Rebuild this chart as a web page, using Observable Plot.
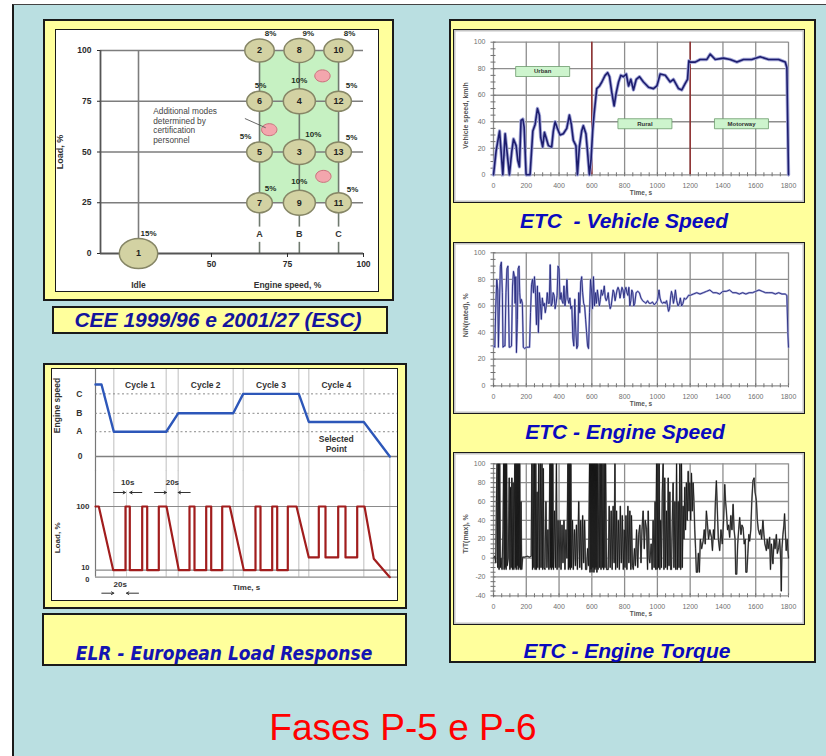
<!DOCTYPE html>
<html lang="pt"><head><meta charset="utf-8">
<script src="https://cdn.jsdelivr.net/npm/d3@7"></script>
<script src="https://cdn.jsdelivr.net/npm/@observablehq/plot@0.6"></script>
<style>
html,body{margin:0;padding:0;background:#fff;width:826px;height:756px;overflow:hidden;font-family:"Liberation Sans",Arial,sans-serif;}
#page{position:absolute;left:12px;top:4px;width:840px;height:780px;background:#badfe1;border-left:2px solid #1a1a1a;border-top:1.5px solid #444;}
.box{position:absolute;background:#ffff9c;border:2px solid #1a1a1a;box-sizing:border-box;}
.white{position:absolute;background:#fff;border:1.5px solid #1a1a1a;box-sizing:border-box;}
.etc{box-shadow:inset 0 0 0 1.5px #c4c4c4;}
.cap{position:absolute;font-weight:bold;font-style:italic;white-space:pre;text-align:center;line-height:1;}
</style></head>
<body>
<div id="page"></div>
<!-- ESC panel -->
<div class="box" style="left:43px;top:19px;width:351px;height:282px"></div>
<div class="white" style="left:55px;top:29px;width:324px;height:263px"></div>
<div class="box" style="left:52px;top:306px;width:336px;height:28px"></div>
<div class="cap" style="left:18px;width:400px;top:309px;font-size:21px;color:#14149c;font-family:'Liberation Sans',Arial">CEE 1999/96 e 2001/27 (ESC)</div>
<!-- ELR panel -->
<div class="box" style="left:43px;top:363px;width:364px;height:246px"></div>
<div class="white" style="left:51px;top:368px;width:347px;height:233px"></div>
<div class="box" style="left:42px;top:613px;width:365px;height:53px"></div>
<div class="cap" style="left:24px;width:400px;top:644px;font-size:19px;color:#1414b2;font-family:'DejaVu Sans Condensed','DejaVu Sans',sans-serif">ELR - European Load Response</div>
<!-- ETC panel -->
<div class="box" style="left:449px;top:19px;width:367px;height:644px"></div>
<div class="white etc" style="left:453px;top:29px;width:352px;height:174px"></div>
<div class="white etc" style="left:453px;top:242px;width:352px;height:172px"></div>
<div class="white etc" style="left:453px;top:452px;width:352px;height:173px"></div>
<div class="cap" style="left:424px;width:400px;top:210px;font-size:21px;color:#0a0abe;font-family:'Liberation Sans',Arial">ETC  - Vehicle Speed</div>
<div class="cap" style="left:425px;width:400px;top:421px;font-size:21px;color:#0a0abe;font-family:'Liberation Sans',Arial">ETC - Engine Speed</div>
<div class="cap" style="left:427px;width:400px;top:640px;font-size:21px;color:#0a0abe;font-family:'Liberation Sans',Arial">ETC - Engine Torque</div>
<div class="cap" style="left:203px;width:400px;top:709px;font-size:37px;color:#ff0000;font-weight:normal;font-style:normal;font-family:'Liberation Sans',Arial">Fases P-5 e P-6</div>

<script>
// ---------------- DATA ----------------
// ESC (13-mode) chart
const escLoadTicks = [0, 25, 50, 75, 100];
const escSpeedTicks = [50, 75, 100];
const escSpeedLabels = ["Idle", "A", "B", "C"];
const escSpeedValues = [26, 65.8, 78.9, 91.8];
const modeIds = [1, 2, 3, 4, 5, 6, 7, 8, 9, 10, 11, 12, 13];
const modeSpeed = ["Idle", "A", "B", "B", "A", "A", "A", "B", "B", "C", "C", "C", "C"];
const modeLoad = [0, 100, 50, 75, 50, 75, 25, 100, 25, 100, 25, 75, 50];
const modeWeight = [15, 8, 10, 10, 5, 5, 5, 9, 10, 8, 5, 5, 5];
const extraSpeed = [86.5, 69, 86.8];
const extraLoad = [87.5, 61, 38];
const escNote = "Additional modes\ndetermined by\ncertification\npersonnel";

// ELR chart
const elrCycleNames = ["Cycle 1", "Cycle 2", "Cycle 3", "Cycle 4"];
const elrCycleStart = [18.3, 82.7, 147.7, 213.3];
const elrCycleEnd = [70.7, 137.7, 203.3, 268.3];
const elrSpeedTickValues = [0, 34.4, 60, 87];
const elrSpeedTickLabels = ["0", "A", "B", "C"];
const elrLoadTicks = [0, 10, 100];
const elrSpeedT = [0, 6, 18.3, 70.7, 82.7, 137.7, 147.7, 203.3, 213.3, 268.3, 294.3];
const elrSpeedV = [100, 100, 34.4, 34.4, 60, 60, 87, 87, 48, 48, 0];
const elrLoadT = [0, 3.3, 17.7, 30, 30, 34.3, 34.3, 46.7, 46.7, 51.7, 51.7, 63.3, 63.3, 71, 83.3, 94, 94, 99, 99, 110.7, 110.7, 115.7, 115.7, 126.7, 126.7, 134.3, 148.3, 160, 160, 165, 165, 176.7, 176.7, 181.7, 181.7, 192.3, 192.3, 201, 213.3, 223.3, 223.3, 230, 230, 242.7, 242.7, 250, 250, 261.7, 261.7, 269, 278.3, 294.3];
const elrLoadV = [100, 100, 10, 10, 100, 100, 10, 10, 100, 100, 10, 10, 100, 100, 10, 10, 100, 100, 10, 10, 100, 100, 10, 10, 100, 100, 10, 10, 100, 100, 10, 10, 100, 100, 10, 10, 100, 100, 28, 28, 100, 100, 28, 28, 100, 100, 28, 28, 100, 100, 26, 0];
const elrGridT = [18.3, 70.7, 82.7, 137.7, 147.7, 203.3, 213.3, 268.3];
const elrEndT = 294.3;
const elrExtraGridT = [31];
const elrDims = [
  {label: "10s", t1: 30, t2: 34.3, row: "top"},
  {label: "20s", t1: 71, t2: 82.7, row: "top"},
  {label: "20s", t1: 18.3, t2: 31, row: "bottom"}
];

// ETC charts
const etcTimeTicks = [0, 200, 400, 600, 800, 1000, 1200, 1400, 1600, 1800];
const etcPctTicks = [0, 20, 40, 60, 80, 100];
const etcTorqueTicks = [-40, -20, 0, 20, 40, 60, 80, 100];
const etcPhaseBounds = [600, 1200];
const etcPhaseNames = ["Urban", "Rural", "Motorway"];
const etcPhaseLabelT = [300, 924, 1513];
const etcPhaseLabelV = [77.9, 38.5, 38.5];
const vsT = [0,16,37,57,71,97,112,122,138,148,158,168,179,187,199,223,240,254,268,280,288,300,311,321,335,355,365,376,390,406,426,447,463,475,487,503,512,524,538,548,564,574,585,595,605,614,630,647,661,681,696,708,722,736,749,763,777,793,810,824,838,854,871,891,915,946,976,997,1017,1048,1078,1098,1129,1149,1170,1184,1192,1200,1231,1261,1302,1322,1353,1403,1444,1485,1526,1576,1627,1678,1739,1780,1790,1800];
const vsV = [0,18,33,0,31,0,18,27,22,11,6,41,42,36,0,0,33,38,50,45,28,21,32,28,22,21,33,40,35,30,31,35,45,38,26,22,0,21,33,37,31,17,0,11,33,46,65,67,70,75,77,74,62,52,62,70,75,74,76,67,72,64,72,74,70,66,65,67,76,75,70,72,65,64,69,72,86,85,85,87,87,91,87,88,87,85,87,87,89,87,87,85,81,0];
const engineSpeed = [[0,30],[8,29],[14,60],[20,80],[26,72],[30,29],[36,60],[42,90],[48,93],[54,70],[58,29],[64,30],[70,30],[76,70],[82,88],[88,90],[92,60],[96,29],[102,29],[110,30],[116,75],[122,86],[128,82],[132,62],[136,82],[140,25],[146,50],[150,88],[156,90],[160,70],[164,62],[170,65],[176,62],[182,29],[190,28],[200,29],[214,29],[220,29],[226,55],[232,76],[238,80],[244,70],[250,82],[256,70],[262,46],[268,75],[274,40],[280,70],[286,62],[292,50],[298,66],[304,60],[310,62],[316,55],[322,60],[328,70],[334,62],[340,62],[346,91],[352,60],[358,62],[364,70],[370,68],[376,58],[382,62],[388,68],[394,90],[400,88],[406,65],[412,70],[418,64],[424,62],[430,75],[436,60],[442,66],[448,80],[454,65],[460,62],[466,66],[472,58],[478,60],[484,36],[490,30],[496,65],[502,42],[508,28],[514,30],[520,70],[526,55],[532,78],[538,82],[544,70],[550,62],[556,60],[562,50],[568,40],[574,30],[580,28],[586,55],[592,80],[598,72],[604,58],[610,82],[616,60],[622,70],[628,62],[634,72],[640,66],[646,60],[652,65],[658,72],[664,68],[670,70],[676,75],[682,66],[688,64],[694,66],[700,70],[706,62],[712,58],[718,60],[724,66],[730,72],[736,70],[742,64],[748,68],[754,72],[760,74],[766,72],[772,66],[778,70],[784,74],[790,72],[796,66],[802,72],[808,74],[814,70],[820,68],[826,74],[832,60],[838,64],[844,72],[850,70],[856,60],[862,62],[870,70],[880,71],[890,70],[900,66],[910,64],[920,63],[930,62],[940,64],[950,62],[960,62],[970,63],[980,61],[990,62],[1000,64],[1010,72],[1016,66],[1024,63],[1032,62],[1040,63],[1048,62],[1056,64],[1062,60],[1068,56],[1074,58],[1080,66],[1086,71],[1092,68],[1098,62],[1104,66],[1110,72],[1118,64],[1126,60],[1134,62],[1140,66],[1148,60],[1156,62],[1164,66],[1172,65],[1180,66],[1190,68],[1200,68],[1220,69],[1240,70],[1260,69],[1280,70],[1300,71],[1320,72],[1340,70],[1360,70],[1380,69],[1400,71],[1420,71],[1440,72],[1460,70],[1480,70],[1500,69],[1520,70],[1540,69],[1560,70],[1580,70],[1600,71],[1620,72],[1640,71],[1660,70],[1680,70],[1700,70],[1720,69],[1740,70],[1760,69],[1780,69],[1790,68],[1796,40],[1800,29]];
const engineTorque = [[0,0],[8,2],[14,-5],[18,60],[22,100],[26,-10],[30,100],[34,-12],[38,100],[42,-10],[46,0],[52,-12],[58,30],[62,100],[65,-12],[68,100],[71,-10],[74,100],[77,-12],[80,100],[84,-8],[90,0],[96,85],[100,-12],[104,75],[108,-10],[112,85],[116,-12],[120,80],[124,-12],[130,100],[133,-10],[136,100],[139,-12],[142,100],[145,-8],[148,100],[151,-12],[154,100],[157,-10],[160,100],[164,-12],[168,60],[172,-12],[178,1],[190,1],[205,2],[220,1],[230,2],[234,100],[238,-12],[242,100],[246,-10],[250,100],[254,-12],[258,100],[262,-12],[266,70],[270,-10],[276,100],[280,-12],[286,100],[290,-10],[296,100],[300,-12],[304,95],[308,-10],[314,-12],[320,60],[326,-10],[332,30],[338,-12],[344,100],[347,-10],[350,100],[353,-12],[356,100],[359,-10],[362,100],[366,-12],[372,50],[378,-10],[384,100],[388,-12],[394,40],[400,-10],[406,40],[412,-12],[418,35],[424,-5],[430,40],[436,-12],[442,30],[448,0],[454,100],[457,-12],[460,100],[463,-10],[466,100],[469,-12],[472,100],[476,-10],[482,40],[487,-12],[494,30],[500,-8],[506,35],[512,-12],[520,60],[526,-10],[532,40],[538,-12],[544,45],[550,-5],[556,40],[562,-12],[568,-12],[574,10],[580,-8],[586,100],[589,-15],[592,100],[595,-12],[598,100],[601,-15],[604,100],[607,-10],[610,100],[613,-15],[616,100],[619,-12],[622,100],[625,-10],[628,100],[631,-15],[634,100],[638,-12],[644,100],[648,-10],[652,100],[656,-12],[660,100],[664,-10],[668,100],[672,-12],[676,100],[680,-10],[684,100],[690,-12],[700,-12],[706,55],[712,-10],[718,50],[724,-12],[730,55],[736,-5],[741,100],[745,-12],[751,50],[756,-10],[762,40],[768,-12],[774,55],[780,-5],[786,45],[792,-12],[798,30],[802,-10],[808,45],[814,-12],[820,55],[826,-5],[832,50],[838,-12],[842,45],[848,-8],[853,-12],[860,10],[866,-8],[873,30],[880,-10],[886,25],[893,35],[900,-5],[906,30],[913,50],[920,10],[926,40],[934,30],[940,-12],[944,50],[950,0],[954,-5],[962,15],[968,-12],[974,40],[980,-10],[986,60],[990,-12],[995,100],[999,-12],[1003,100],[1007,-10],[1011,100],[1015,-12],[1020,40],[1025,-10],[1030,70],[1035,100],[1040,-12],[1045,85],[1050,-10],[1056,50],[1061,-12],[1066,85],[1071,-8],[1076,70],[1081,-12],[1086,-12],[1091,40],[1096,80],[1101,-10],[1107,60],[1112,-12],[1117,100],[1122,-12],[1127,60],[1132,-10],[1137,100],[1142,-12],[1147,100],[1152,-10],[1157,55],[1162,20],[1167,75],[1172,30],[1177,80],[1182,40],[1188,92],[1193,50],[1198,80],[1203,40],[1208,90],[1213,50],[1218,80],[1223,60],[1228,30],[1233,10],[1238,-15],[1244,-15],[1250,5],[1256,-15],[1262,20],[1270,10],[1279,18],[1286,30],[1292,15],[1299,50],[1306,35],[1312,20],[1320,30],[1330,22],[1336,8],[1342,30],[1348,20],[1354,60],[1360,82],[1366,50],[1372,20],[1380,8],[1388,30],[1396,15],[1404,40],[1411,78],[1416,60],[1421,50],[1428,30],[1434,35],[1441,22],[1448,45],[1455,30],[1462,57],[1468,30],[1474,20],[1478,-17],[1484,-17],[1490,15],[1496,30],[1502,43],[1510,25],[1516,35],[1523,32],[1530,15],[1536,20],[1540,-15],[1546,-15],[1552,5],[1558,25],[1563,18],[1570,30],[1576,60],[1583,82],[1590,85],[1596,70],[1604,61],[1610,40],[1616,30],[1624,25],[1630,30],[1636,20],[1644,40],[1650,25],[1656,15],[1665,8],[1670,20],[1676,10],[1685,22],[1690,-12],[1696,15],[1705,-6],[1712,20],[1718,10],[1726,25],[1732,5],[1740,11],[1746,20],[1752,0],[1756,-35],[1760,10],[1766,25],[1772,35],[1776,47],[1780,30],[1786,8],[1792,20],[1800,0]];

// ---------------- HELPERS ----------------
function put(node, left, top) {
  node.style.position = "absolute";
  node.style.left = left + "px";
  node.style.top = top + "px";
  document.body.appendChild(node);
}
const FONT = "'Liberation Sans', Arial, sans-serif";
const ellipse = {draw(ctx, size) {
  const r = Math.sqrt(size / Math.PI), rx = r * 1.28, ry = r, k = 0.5523;
  ctx.moveTo(rx, 0);
  ctx.bezierCurveTo(rx, ry * k, rx * k, ry, 0, ry);
  ctx.bezierCurveTo(-rx * k, ry, -rx, ry * k, -rx, 0);
  ctx.bezierCurveTo(-rx, -ry * k, -rx * k, -ry, 0, -ry);
  ctx.bezierCurveTo(rx * k, -ry, rx, -ry * k, rx, 0);
  ctx.closePath();
}};
const labelBox = {draw(ctx) {
  ctx.moveTo(-27, -5); ctx.lineTo(27, -5); ctx.lineTo(27, 5); ctx.lineTo(-27, 5); ctx.closePath();
}};
const segment = {draw(ctx, l) { ctx.moveTo(0, 0); ctx.lineTo(0, -l); }};
const plain = d => String(d);

// ---------------- ESC ----------------
const speedPos = Object.fromEntries(escSpeedLabels.map((k, i) => [k, escSpeedValues[i]]));
const labelOffsets = [[10,-20],[11,-17],[14,-18],[0,-21],[-14,-16],[1,-16],[11,-14],[9,-17],[0,-21],[11,-17],[14,-13],[13,-16],[13,-15]];
const modes = modeIds.map((id, i) => ({id, x: speedPos[modeSpeed[i]], y: modeLoad[i], w: modeWeight[i], off: labelOffsets[i]}));
const extras = extraSpeed.map((s, i) => ({x: s, y: extraLoad[i]}));
const abc = escSpeedLabels.slice(1).map(k => ({k, x: speedPos[k]}));
const xMin = 13.5;
let leader = null;
try {
  leader = Plot.vector([extras[1]], {x: "x", y: "y", length: 22, rotate: 114, anchor: "start", dx: -24, dy: -11, shape: segment, stroke: "#555", strokeWidth: 0.8});
} catch (e) { leader = null; }

const esc = Plot.plot({
  width: 321, height: 261, marginLeft: 44, marginRight: 14, marginTop: 20, marginBottom: 38,
  x: {domain: [xMin, 100], axis: null}, y: {domain: [0, 100], axis: null},
  r: {type: "linear", domain: [5, 15], range: [10, 15]},
  style: {background: "transparent", overflow: "visible", fontFamily: FONT, color: "#2a2a2a"},
  marks: [
    Plot.rect([0], {x1: speedPos.A, x2: speedPos.C, y1: 25, y2: 100, fill: "#c6f1c2"}),
    Plot.ruleY(escLoadTicks.filter(d => d > 0), {x1: xMin, x2: 100, stroke: "#7d7d7d", strokeWidth: 1.6}),
    Plot.ruleX([speedPos.Idle], {y1: 0, y2: 100, stroke: "#7d7d7d", strokeWidth: 1.6}),
    Plot.ruleX(abc, {x: "x", y1: 13, y2: 100, stroke: "#6f7a6f", strokeWidth: 1.6}),
    Plot.ruleX(abc, {x: "x", y1: 0, y2: 5.5, stroke: "#6f7a6f", strokeWidth: 1.6}),
    Plot.ruleX([xMin], {y1: 0, y2: 100, stroke: "#555", strokeWidth: 1.8}),
    Plot.ruleY([0], {x1: xMin, x2: 100, stroke: "#555", strokeWidth: 1.8}),
    Plot.axisY(escLoadTicks, {tickSize: 3, tickPadding: 6, fontSize: 8.5, fontWeight: "bold", label: null}),
    Plot.axisX(escSpeedTicks, {tickSize: 4, tickPadding: 3, fontSize: 8.5, fontWeight: "bold", label: null}),
    Plot.text(abc, {x: "x", y: 0, text: "k", dy: -19, fontSize: 9, fontWeight: "bold", fill: "#333"}),
    Plot.text([{x: speedPos.Idle, t: "Idle"}, {x: 75, t: "Engine speed, %"}], {x: "x", y: 0, text: "t", dy: 32, fontSize: 8.5, fontWeight: "bold", fill: "#333"}),
    Plot.text(["Load, %"], {text: d => d, frameAnchor: "left", textAnchor: "middle", rotate: -90, dx: -40, fontSize: 9, fontWeight: "bold", fill: "#333"}),
    Plot.dot(modes, {x: "x", y: "y", r: "w", symbol: ellipse, fill: "#d3d2a3", stroke: "#868666", strokeWidth: 1.5}),
    Plot.text(modes, {x: "x", y: "y", text: "id", fontSize: 9, fontWeight: "bold", fill: "#222"}),
    ...modes.map(m => Plot.text([m], {x: "x", y: "y", text: d => d.w + "%", dx: m.off[0], dy: m.off[1], fontSize: 8, fontWeight: "bold", fill: "#1e2e1e"})),
    Plot.dot(extras, {x: "x", y: "y", r: 6, symbol: ellipse, fill: "#f3a6ad", stroke: "#c9707c", strokeWidth: 1}),
    Plot.text([extras[1]], {x: "x", y: "y", text: () => escNote, dx: -116, dy: -4, textAnchor: "start", lineHeight: 1.15, fontSize: 8.3, fill: "#444"}),
    leader
  ].filter(Boolean)
});
put(esc, 56, 30);

// ---------------- ELR ----------------
const speedTrace = elrSpeedT.map((t, i) => ({t, v: elrSpeedV[i]}));
const loadTrace = elrLoadT.map((t, i) => ({t, v: elrLoadV[i]}));
const cycles = elrCycleNames.map((name, i) => ({name, t: (elrCycleStart[i] + elrCycleEnd[i]) / 2}));
const elrStyle = {background: "transparent", overflow: "visible", fontFamily: FONT, color: "#333"};
const elrTop = Plot.plot({
  width: 345, height: 103, marginLeft: 43, marginRight: 0, marginTop: 17, marginBottom: 14,
  x: {domain: [0, 302], axis: null}, y: {domain: [0, 100], axis: null},
  style: elrStyle,
  marks: [
    Plot.ruleX(elrGridT, {y1: -20, y2: 121, stroke: "#c9c9c9", strokeWidth: 1.2}),
    Plot.ruleX([elrEndT], {y1: -20, y2: 0, stroke: "#c9c9c9", strokeWidth: 1.2}),
    Plot.ruleX([0], {y1: -20, y2: 121, stroke: "#777", strokeWidth: 1.2}),
    Plot.ruleY(elrSpeedTickValues.slice(1), {x1: 0, x2: 302, stroke: "#8a8a8a", strokeWidth: 1, strokeDasharray: "2,2.5"}),
    Plot.ruleY([0], {x1: 0, x2: 302, stroke: "#808080", strokeWidth: 1.3}),
    Plot.axisY(elrSpeedTickValues, {tickSize: 0, tickPadding: 13, tickFormat: d => elrSpeedTickLabels[elrSpeedTickValues.indexOf(d)], fontSize: 8.5, fontWeight: "bold", label: null}),
    Plot.line(speedTrace, {x: "t", y: "v", stroke: "#2d57b9", strokeWidth: 2.4}),
    Plot.text(cycles, {x: "t", text: "name", frameAnchor: "top", dy: -3, fontSize: 8.5, fontWeight: "bold", fill: "#333"}),
    Plot.text([cycles[3]], {x: "t", y: elrSpeedV[8], text: () => "Selected\nPoint", dy: 22, lineHeight: 1.15, fontSize: 8.5, fontWeight: "bold", fill: "#333"}),
    Plot.text(["Engine speed"], {text: d => d, frameAnchor: "left", textAnchor: "middle", rotate: -90, dx: -38, dy: -15, fontSize: 8.5, fontWeight: "bold", fill: "#333"})
  ]
});
put(elrTop, 52, 367);

const dimArrows = [];
elrDims.forEach(d => {
  dimArrows.push({x1: d.t1 - 12, x2: d.t1, row: d.row});
  dimArrows.push({x1: d.t2 + 12, x2: d.t2, row: d.row});
});
const elrBottom = Plot.plot({
  width: 345, height: 130, marginLeft: 43, marginRight: 0, marginTop: 36, marginBottom: 23.3,
  x: {domain: [0, 302], axis: null}, y: {domain: [0, 100], axis: null},
  style: elrStyle,
  marks: [
    Plot.ruleX([...elrGridT, elrEndT], {y1: 0, y2: 151, stroke: "#c9c9c9", strokeWidth: 1.2}),
    Plot.ruleX(elrExtraGridT, {y1: 0, y2: 122, stroke: "#d4d4d4", strokeWidth: 1}),
    Plot.ruleX([0], {y1: 0, y2: 151, stroke: "#777", strokeWidth: 1.2}),
    Plot.ruleY(elrLoadTicks, {x1: 0, x2: 302, stroke: "#8a8a8a", strokeWidth: 1.2}),
    Plot.axisY([elrLoadTicks[2]], {tickSize: 0, tickPadding: 6, fontSize: 8, fontWeight: "bold", label: null}),
    Plot.axisY([elrLoadTicks[1]], {tickSize: 0, tickPadding: 6, dy: -2.5, fontSize: 7.5, fontWeight: "bold", label: null}),
    Plot.axisY([elrLoadTicks[0]], {tickSize: 0, tickPadding: 6, dy: 2.5, fontSize: 7.5, fontWeight: "bold", label: null}),
    Plot.line(loadTrace, {x: "t", y: "v", stroke: "#a11d1d", strokeWidth: 2.2}),
    Plot.arrow(dimArrows.filter(d => d.row === "top"), {x1: "x1", x2: "x2", y1: 100, y2: 100, dy: -14, stroke: "#333", strokeWidth: 1, headLength: 4}),
    Plot.arrow(dimArrows.filter(d => d.row === "bottom"), {x1: "x1", x2: "x2", y1: 0, y2: 0, dy: 16, stroke: "#333", strokeWidth: 1, headLength: 4}),
    Plot.text(elrDims.filter(d => d.row === "top"), {x: d => (d.t1 + d.t2) / 2, y: 100, text: "label", dy: -24, fontSize: 8, fontWeight: "bold", fill: "#333"}),
    Plot.text(elrDims.filter(d => d.row === "bottom"), {x: d => (d.t1 + d.t2) / 2, y: 0, text: "label", dy: 7, fontSize: 8, fontWeight: "bold", fill: "#333"}),
    Plot.text(["Time, s"], {text: d => d, frameAnchor: "bottom", dy: 13, fontSize: 8, fontWeight: "bold", fill: "#333"}),
    Plot.text(["Load, %"], {text: d => d, frameAnchor: "left", textAnchor: "middle", rotate: -90, dx: -38, dy: -4, fontSize: 8, fontWeight: "bold", fill: "#333"})
  ]
});
put(elrBottom, 52, 470);

// ---------------- ETC ----------------
const minorTime = d3.range(0, 1801, 50);
function etcChart({height, mt, mb, yDomain, yTicks, yLabel, labelDy, marks}) {
  const yMinor = d3.range(yDomain[0], yDomain[1] + 1, 5);
  return Plot.plot({
    width: 352, height, marginLeft: 40, marginRight: 17, marginTop: mt, marginBottom: mb,
    x: {domain: [0, 1800], axis: null}, y: {domain: yDomain, axis: null},
    style: {background: "transparent", overflow: "visible", fontFamily: FONT, color: "#707070"},
    marks: [
      Plot.gridX(etcTimeTicks, {stroke: "#8e8e8e", strokeOpacity: 1, strokeWidth: 1.3}),
      Plot.gridY(yTicks, {stroke: "#8e8e8e", strokeOpacity: 1, strokeWidth: 1.3}),
      Plot.axisX(minorTime, {tickSize: 2, tickFormat: () => "", label: null}),
      Plot.axisX(minorTime, {tickSize: -2, tickFormat: () => "", label: null}),
      Plot.axisX(etcTimeTicks, {tickSize: 0, tickPadding: 8, tickFormat: plain, fontSize: 7, label: null}),
      Plot.axisY(yMinor, {tickSize: 2.5, tickFormat: () => "", label: null}),
      Plot.axisY(yMinor, {tickSize: -2.5, tickFormat: () => "", label: null}),
      Plot.axisY(yTicks, {tickSize: 0, tickPadding: 8, tickFormat: plain, fontSize: 7, label: null}),
      Plot.text(["Time, s"], {text: d => d, frameAnchor: "bottom", dy: 20, fontSize: 6.5, fontWeight: "bold", fill: "#555"}),
      Plot.text([yLabel], {text: d => d, frameAnchor: "left", textAnchor: "middle", rotate: -90, dx: -28, dy: labelDy, fontSize: 7, fontWeight: "bold", fill: "#555"}),
      ...marks
    ]
  });
}
const vs = vsT.map((t, i) => ({t, v: vsV[i]}));
const phaseLabels = etcPhaseNames.map((name, i) => ({name, t: etcPhaseLabelT[i], v: etcPhaseLabelV[i]}));
const etc1 = etcChart({
  height: 174, mt: 12.7, mb: 28.7, yDomain: [0, 100], yTicks: etcPctTicks, yLabel: "Vehicle speed, km/h", labelDy: 7,
  marks: [
    Plot.ruleX(etcPhaseBounds, {y1: 0, y2: 100, stroke: "#8e1f1f", strokeWidth: 1.3}),
    Plot.line(vs, {x: "t", y: "v", stroke: "#a3a7d8", strokeWidth: 3.4}),
    Plot.line(vs, {x: "t", y: "v", stroke: "#1d1d6e", strokeWidth: 1.6}),
    Plot.dot(phaseLabels, {x: "t", y: "v", r: 1, symbol: labelBox, fill: "#cdf4cd", stroke: "#6c9a6c", strokeWidth: 0.8}),
    Plot.text(phaseLabels, {x: "t", y: "v", text: "name", fontSize: 6, fontWeight: "bold", fill: "#333"})
  ]
});
put(etc1, 453, 29);

const etc2 = etcChart({
  height: 172, mt: 10.3, mb: 28.7, yDomain: [0, 100], yTicks: etcPctTicks, yLabel: "N/N(rated), %", labelDy: -4,
  marks: [
    Plot.line(engineSpeed, {x: d => d[0], y: d => d[1], stroke: "#a6a9dc", strokeWidth: 2}),
    Plot.line(engineSpeed, {x: d => d[0], y: d => d[1], stroke: "#25287a", strokeWidth: 0.9})
  ]
});
put(etc2, 453, 242);

const etc3 = etcChart({
  height: 173, mt: 11.3, mb: 29.7, yDomain: [-40, 100], yTicks: etcTorqueTicks, yLabel: "T/T(max), %", labelDy: 4,
  marks: [
    Plot.line(engineTorque, {x: d => d[0], y: d => d[1], stroke: "#8a8a8a", strokeWidth: 1.6}),
    Plot.line(engineTorque, {x: d => d[0], y: d => d[1], stroke: "#111", strokeWidth: 0.8})
  ]
});
put(etc3, 453, 452);
</script>
</body></html>
